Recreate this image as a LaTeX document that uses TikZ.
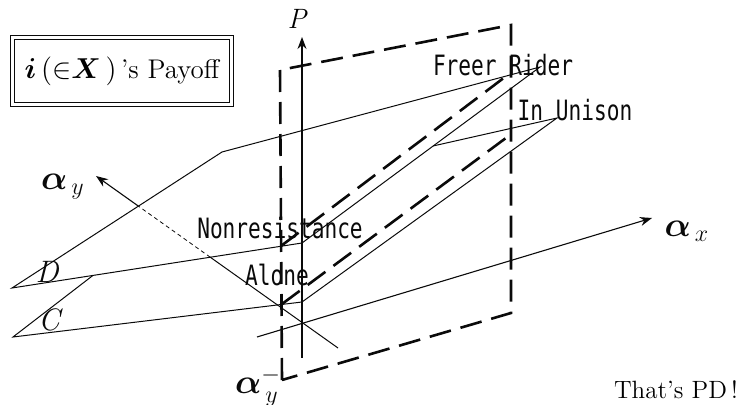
\documentclass[tikz,border=0pt]{standalone}
\usepackage{fontspec}
\usepackage{amsmath}
\usepackage{bm}
\usepackage{xcolor}
\usetikzlibrary{positioning,arrows.meta}
\newfontfamily\gothic[FakeStretch=0.755]{DejaVu Sans Mono}
\definecolor{pdInk}{HTML}{0A0A0A}
\tikzset{
  plane/.style={draw=pdInk, line width=1.3pt, dash pattern=on 11pt off 5pt},
  edge/.style={draw=pdInk, line width=0.5pt},
  hidden/.style={draw=pdInk, line width=0.4pt, dash pattern=on 2pt off 1.6pt},
  axis/.style={-{Stealth[length=6pt, width=4.5pt]}, line width=0.55pt, draw=pdInk},
  tag/.style={font=\gothic\fontsize{14}{16}\selectfont, inner sep=0pt, text=pdInk},
  greek/.style={font=\fontsize{16.5}{18}\selectfont, inner sep=0pt, text=pdInk},
  surf/.style={font=\fontsize{15.5}{17}\selectfont\itshape, inner sep=0pt, text=pdInk},
  titlebox/.style={draw=pdInk, double, double distance=1.5pt, line width=0.5pt,
                   minimum width=109.5pt, minimum height=33.5pt,
                   font=\fontsize{13.5}{15}\selectfont},
}

\begin{document}
\begin{tikzpicture}[x=0.5pt, y=-0.5pt]
  \useasboundingbox (0,0) rectangle (739,405);

  % vertical dashed plane
  \coordinate (pTL) at (280,70);
  \coordinate (pTR) at (511,25);
  \coordinate (pBR) at (511,313);
  \coordinate (pBL) at (282,380);
  % surface D
  \coordinate (dL) at (12,288);
  \coordinate (dB) at (222,152);
  \coordinate (dK) at (302,243);
  \coordinate (dF) at (540,67);
  % surface C
  \coordinate (cL) at (13,337);
  \coordinate (cN) at (93,275.4);
  \coordinate (cK) at (302,302);
  \coordinate (cU) at (557,118);
  \coordinate (cR) at (433,146);
  % traces on the dashed plane
  \coordinate (uA) at (281,246);
  \coordinate (uB) at (509,74);
  \coordinate (lA) at (282,304);
  \coordinate (lB) at (510,135);
  % axes
  \coordinate (pBot) at (302,358);
  \coordinate (pTop) at (302,37);
  \coordinate (xS) at (257,337);
  \coordinate (xE) at (652,218);
  \coordinate (yS) at (338,348);
  \coordinate (yE) at (96,176);
  \coordinate (yH1) at (intersection of yS--yE and dL--dB);
  \coordinate (yH2) at (intersection of yS--yE and dL--dK);

  \draw[plane] (pBL) -- (pTL) -- (pTR) -- (pBR) -- cycle;
  \draw[plane] (uA) -- (uB);
  \draw[plane] (lA) -- (lB);

  \draw[edge] (dL) -- (dB) -- (dF) -- (dK) -- cycle;
  \draw[edge] (cN) -- (cL) -- (cK) -- (cU) -- (cR);

  \draw[axis] (pBot) -- (pTop);
  \draw[axis] (xS) -- (xE);
  \draw[edge] (yS) -- (yH2);
  \draw[hidden] (yH2) -- (yH1);
  \draw[axis] (yH1) -- (yE);

  \node[titlebox] (payoff) at (122,71)
    {$\bm{i}\,(\mathord{\in}\bm{X}\,)$\,'s Payoff};
  \node[font=\fontsize{14}{16}\selectfont\itshape, inner sep=0pt] (plab) at (297,19) {P};
  \node[greek] (ax) at (687,231) {$\bm{\alpha}_{\,x}$};
  \node[greek] (ay) at (63,187) {$\bm{\alpha}_{\,y}$};
  \node[greek] (amy) at (258,387) {$\bm{\alpha}^{-}_{\,y}$};
  \node[surf] (dlab) at (47,272) {D};
  \node[surf] (clab) at (49,320) {C};

  \node[tag] (free) at (503,65) {Freer Rider};
  \node[tag] (unison) at (575,110) {In Unison};
  \node[tag] (nonres) at (280,228) {Nonresistance};
  \node[tag] (alone) at (277,275) {Alone};

  \node[font=\fontsize{12.5}{14}\selectfont, inner sep=0pt] (pd) at (676,390) {That's PD\,!};
\end{tikzpicture}
\end{document}
